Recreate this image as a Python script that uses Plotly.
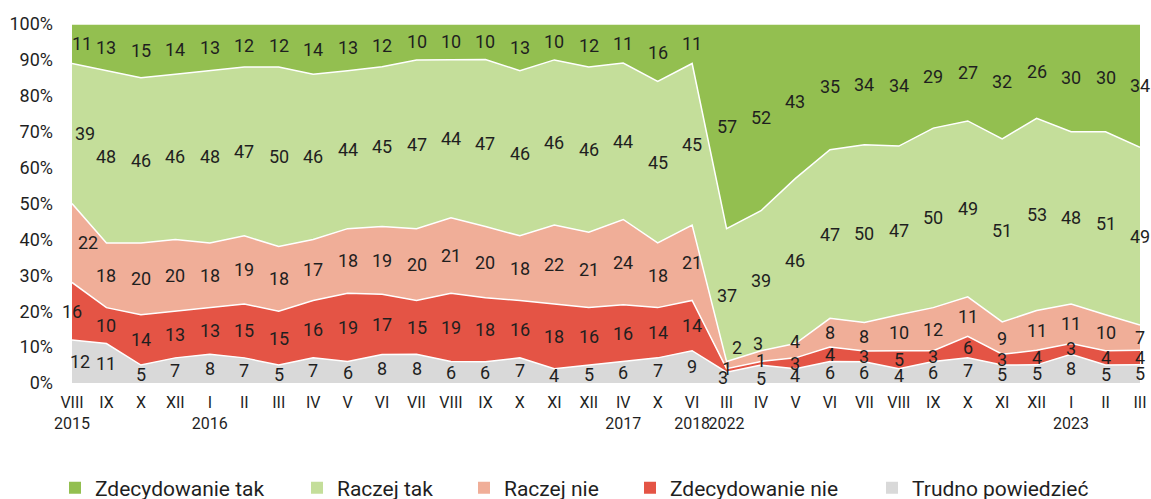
import plotly.graph_objects as go

# ---------------- data ----------------
months = ["VIII", "IX", "X", "XII", "I", "II", "III", "IV", "V", "VI", "VII", "VIII",
          "IX", "X", "XI", "XII", "IV", "X", "VI", "III", "IV", "V", "VI", "VII",
          "VIII", "IX", "X", "XI", "XII", "I", "II", "III"]
years = ["2015", "", "", "", "2016", "", "", "", "", "", "", "", "", "", "", "",
         "2017", "", "2018", "2022", "", "", "", "", "", "", "", "", "", "2023", "", ""]

trudno = [12, 11, 5, 7, 8, 7, 5, 7, 6, 8, 8, 6, 6, 7, 4, 5, 6, 7, 9, 3, 5, 4, 6, 6, 4, 6, 7, 5, 5, 8, 5, 5]
zdec_nie = [16, 10, 14, 13, 13, 15, 15, 16, 19, 17, 15, 19, 18, 16, 18, 16, 16, 14, 14, 1, 1, 3, 4, 3, 5, 3, 6, 3, 4, 3, 4, 4]
raczej_nie = [22, 18, 20, 20, 18, 19, 18, 17, 18, 19, 20, 21, 20, 18, 22, 21, 24, 18, 21, 2, 3, 4, 8, 8, 10, 12, 11, 9, 11, 11, 10, 7]
raczej_tak = [39, 48, 46, 46, 48, 47, 50, 46, 44, 45, 47, 44, 47, 46, 46, 46, 44, 45, 45, 37, 39, 46, 47, 50, 47, 50, 49, 51, 53, 48, 51, 49]
zdec_tak = [11, 13, 15, 14, 13, 12, 12, 14, 13, 12, 10, 10, 10, 13, 10, 12, 11, 16, 11, 57, 52, 43, 35, 34, 34, 29, 27, 32, 26, 30, 30, 34]

series_names = ["Trudno powiedzieć", "Zdecydowanie nie", "Raczej nie", "Raczej tak", "Zdecydowanie tak"]
series_values = [trudno, zdec_nie, raczej_nie, raczej_tak, zdec_tak]

# ---------------- styles ----------------
colors = ["#d9d9d9", "#e45445", "#f0ae98", "#c4de9a", "#93bf50"]
FONT = "Roboto"
TXT = "#1f1f1f"

# label nudges in screen pixels (dx right, dy down) for crowded spots
nudges = {
    (0, 0): (8, 0), (1, 0): (0, 0), (2, 0): (16, 0), (3, 0): (13, 0), (4, 0): (10, 0),
    (0, 19): (-4, 0), (1, 19): (0, -2), (2, 19): (10, -18),
    (0, 20): (0, 4), (1, 20): (0, -3), (2, 20): (-3, -13),
    (2, 21): (0, -9),
}

n = len(months)
xs = list(range(n))
ticktext = [m + ("<br>" + y if y else "") for m, y in zip(months, years)]

fig = go.Figure()
for k, (name, vals) in enumerate(zip(series_names, series_values)):
    fig.add_trace(go.Scatter(
        x=xs, y=vals, name=name, mode="lines", stackgroup="one", groupnorm="percent",
        line=dict(color="white", width=1.5), fillcolor=colors[k],
        showlegend=False, hoverinfo="skip",
    ))

# data labels at the middle of each band
totals = [sum(s[i] for s in series_values) for i in range(n)]
annotations = []
for i in range(n):
    cum = 0
    for k, vals in enumerate(series_values):
        v = vals[i]
        mid = (cum + v / 2) / totals[i] * 100
        cum += v
        dx, dy = nudges.get((k, i), (0, 0))
        annotations.append(dict(
            x=i, y=mid, xref="x", yref="y", text=str(v), showarrow=False,
            font=dict(family=FONT, size=18, color=TXT), xshift=dx, yshift=-dy,
        ))

# legend: one legend per item for exact placement
legend_order = [4, 3, 2, 1, 0]
legend_text_x = [95, 337, 504, 670, 912]
plot_left, plot_w = 72, 1068
plot_bottom, plot_h = 383, 359
legend_layouts = {}
for j, (k, tx) in enumerate(zip(legend_order, legend_text_x)):
    lname = "legend" if j == 0 else f"legend{j + 1}"
    fig.add_trace(go.Scatter(
        x=[None], y=[None], mode="markers", name=series_names[k],
        marker=dict(symbol="square", size=12, color=colors[k]),
        showlegend=True, legend=lname,
    ))
    legend_layouts[lname] = dict(
        x=(tx - 40 - plot_left) / plot_w, xanchor="left",
        y=(plot_bottom - 488) / plot_h, yanchor="middle",
        orientation="h", font=dict(family=FONT, size=21, color=TXT),
        bgcolor="rgba(0,0,0,0)", itemwidth=30,
    )

fig.update_layout(
    width=1151, height=499, autosize=False,
    margin=dict(l=72, r=11, t=24, b=116, autoexpand=False),
    paper_bgcolor="white", plot_bgcolor="white",
    font=dict(family=FONT, color=TXT),
    annotations=annotations,
    xaxis=dict(range=[0, n - 1], tickmode="array", tickvals=xs, ticktext=ticktext,
               showgrid=False, zeroline=False, showline=False, ticks="",
               tickangle=0, automargin=False,
               tickfont=dict(family=FONT, size=16, color=TXT), ticklabelstandoff=8,
               fixedrange=True),
    yaxis=dict(range=[0, 100], tickmode="array", tickvals=list(range(0, 101, 10)),
               ticktext=[f"{v}%" for v in range(0, 101, 10)],
               showgrid=False, zeroline=False, showline=False, ticks="",
               automargin=False,
               tickfont=dict(family=FONT, size=18, color=TXT), ticklabelstandoff=18,
               fixedrange=True),
    **legend_layouts,
)

fig.write_html("out.html", config={"displayModeBar": False},
               post_script="document.body.style.margin='0';")
